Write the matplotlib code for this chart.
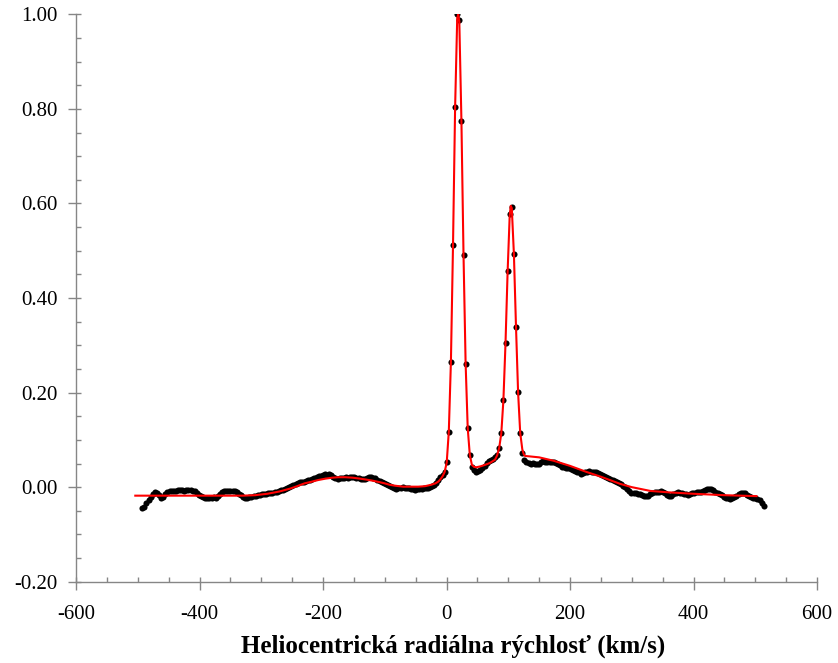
import numpy as np
import matplotlib
matplotlib.use("Agg")
import matplotlib.pyplot as plt
from matplotlib.ticker import MultipleLocator, FormatStrFormatter

plt.rcParams["axes.unicode_minus"] = False

# ---- observed spectrum: uniform velocity channels ----
VEL_FIRST = -492.7     # km/s, first channel
VEL_STEP = 3.4         # km/s, channel width

flux_left = [
    -0.044, -0.041, -0.034, -0.027, -0.020, -0.014, -0.011, -0.012, -0.017, -0.022,
    -0.021, -0.015, -0.010, -0.009, -0.008, -0.009, -0.008, -0.007, -0.007, -0.006,
    -0.008, -0.007, -0.006, -0.007, -0.008, -0.009, -0.012, -0.016, -0.019, -0.021,
    -0.022, -0.023, -0.022, -0.023, -0.021, -0.022, -0.019, -0.014, -0.010, -0.009,
    -0.008, -0.009, -0.008, -0.008, -0.009, -0.011, -0.014, -0.017, -0.020, -0.022,
    -0.023, -0.021, -0.020, -0.019, -0.018, -0.016, -0.016, -0.015, -0.014, -0.015,
    -0.013, -0.012, -0.012, -0.011, -0.010, -0.009, -0.007, -0.005, -0.003, -0.002,
    0.001, 0.003, 0.004, 0.006, 0.009, 0.011, 0.010, 0.011, 0.013, 0.015,
    0.016, 0.018, 0.020, 0.022, 0.023, 0.024, 0.025, 0.027, 0.026, 0.027,
    0.025, 0.022, 0.020, 0.018, 0.019, 0.020, 0.020, 0.021, 0.020, 0.021,
    0.022, 0.021, 0.020, 0.019, 0.018, 0.017, 0.018, 0.020, 0.021, 0.021,
    0.020, 0.019, 0.016, 0.013, 0.010, 0.008, 0.006, 0.004, 0.002, 0.000,
    -0.002, -0.003, -0.002, -0.001, 0.000, -0.001, -0.002, -0.002, -0.003, -0.004,
    -0.005, -0.004, -0.004, -0.003, -0.002, -0.001, -0.001, 0.000, 0.002, 0.004,
    0.008, 0.016, 0.021, 0.026, 0.033,
]
flux_peaks = [
    0.053, 0.117, 0.265, 0.512, 0.805, 1.000, 0.988, 0.775, 0.491, 0.260,
    0.126, 0.069, 0.043, 0.036, 0.032, 0.034, 0.037, 0.040, 0.045, 0.051,
    0.055, 0.057, 0.060, 0.064, 0.068, 0.082, 0.114, 0.184, 0.304, 0.457,
    0.577, 0.593, 0.493, 0.339, 0.201, 0.114, 0.073,
]
flux_right = [
    0.058, 0.054, 0.052, 0.050, 0.052, 0.049, 0.048, 0.050, 0.053, 0.055,
    0.054, 0.053, 0.053, 0.054, 0.053, 0.051, 0.049, 0.046, 0.043, 0.042,
    0.041, 0.040, 0.039, 0.037, 0.035, 0.033, 0.031, 0.028, 0.029, 0.031,
    0.033, 0.034, 0.033, 0.032, 0.031, 0.030, 0.028, 0.026, 0.024, 0.022,
    0.020, 0.018, 0.016, 0.013, 0.011, 0.008, 0.006, 0.003, 0.000, -0.004,
    -0.009, -0.012, -0.013, -0.012, -0.014, -0.015, -0.017, -0.019, -0.019, -0.018,
    -0.015, -0.012, -0.011, -0.010, -0.010, -0.009, -0.010, -0.013, -0.016, -0.019,
    -0.018, -0.015, -0.012, -0.011, -0.012, -0.013, -0.014, -0.015, -0.016, -0.015,
    -0.013, -0.012, -0.011, -0.011, -0.010, -0.009, -0.006, -0.004, -0.003, -0.004,
    -0.007, -0.010, -0.012, -0.014, -0.017, -0.020, -0.022, -0.024, -0.025, -0.024,
    -0.021, -0.018, -0.015, -0.013, -0.012, -0.013, -0.016, -0.019, -0.021, -0.023,
    -0.024, -0.025, -0.028, -0.034, -0.040,
]

# ---- model fit (red curve) ----
fit_vel = [
    -504, -450, -400, -350, -330, -310, -290, -270, -253, -240,
    -230, -220, -208, -196, -185, -175, -164, -152, -140, -130,
    -121, -110, -100, -92, -83, -70, -60, -46, -35, -25,
    -18, -13, -9, -6, -3.1, 0.3, 3.7, 7.1, 10.5, 13.9,
    17.3, 19.0, 20.7, 24.1, 27.5, 30.9, 34.3, 37.7, 41.1, 44.5,
    48, 55, 62, 70, 78.5, 81.9, 85.3, 88.7, 92.1, 95.5,
    98.9, 102.3, 104.0, 105.7, 109.1, 112.5, 115.9, 119.3, 122.7, 125.0,
    127, 135, 150, 173, 200, 227, 250, 281, 300, 330,
    360, 400, 450, 502,
]
fit_flux = [
    -0.018, -0.018, -0.018, -0.018, -0.018, -0.017, -0.014, -0.009, -0.003, 0.003,
    0.008, 0.011, 0.015, 0.018, 0.020, 0.021, 0.021, 0.020, 0.018, 0.016,
    0.014, 0.011, 0.008, 0.005, 0.003, 0.001, 0.001, 0.001, 0.002, 0.005,
    0.008, 0.012, 0.018, 0.024, 0.032, 0.052, 0.118, 0.265, 0.512, 0.803,
    0.992, 1.000, 0.985, 0.776, 0.492, 0.262, 0.125, 0.068, 0.047, 0.043,
    0.042, 0.044, 0.047, 0.051, 0.058, 0.067, 0.083, 0.114, 0.184, 0.304,
    0.455, 0.575, 0.595, 0.590, 0.493, 0.339, 0.200, 0.115, 0.080, 0.070,
    0.066, 0.065, 0.063, 0.056, 0.045, 0.032, 0.022, 0.007, 0.000, -0.008,
    -0.011, -0.014, -0.017, -0.019,
]

x_ticks = [-600, -400, -200, 0, 200, 400, 600]
y_ticks = [-0.20, 0.00, 0.20, 0.40, 0.60, 0.80, 1.00]
x_label = "Heliocentrická radiálna rýchlosť (km/s)"

flux = np.array(flux_left + flux_peaks + flux_right)
vel = VEL_FIRST + VEL_STEP * np.arange(len(flux))

SERIF = ["Liberation Serif", "DejaVu Serif"]
GRAY = "#868686"

fig = plt.figure(figsize=(8.38, 6.63), dpi=100)
ax = fig.add_axes([0.0907, 0.1226, 0.8843, 0.8558])

ax.plot(vel, flux, linestyle="none", marker="o", ms=4.4, color="black",
        markeredgewidth=0, zorder=2)
ax.plot(fit_vel, fit_flux, color="#ff0000", lw=1.5, zorder=3)

ax.set_xlim(x_ticks[0], x_ticks[-1])
ax.set_ylim(y_ticks[0], y_ticks[-1])
ax.set_xticks(x_ticks)
ax.set_yticks(y_ticks)
ax.yaxis.set_major_formatter(FormatStrFormatter("%.2f"))
ax.xaxis.set_minor_locator(MultipleLocator(50))
ax.yaxis.set_minor_locator(MultipleLocator(0.05))
ax.xaxis.remove_overlapping_locs = False
ax.yaxis.remove_overlapping_locs = False

for s in ["top", "right"]:
    ax.spines[s].set_visible(False)
for s in ["left", "bottom"]:
    ax.spines[s].set_color(GRAY)
    ax.spines[s].set_linewidth(1.0)

ax.tick_params(axis="both", which="major", direction="out", length=5.5,
               width=1.0, color=GRAY, labelsize=15, labelcolor="black")
ax.tick_params(axis="both", which="minor", direction="in", length=3.8,
               width=1.0, color=GRAY)
ax.tick_params(axis="x", which="major", pad=11)
ax.tick_params(axis="y", which="major", pad=8)
for lab in ax.get_xticklabels() + ax.get_yticklabels():
    lab.set_family(SERIF)

ax.set_xlabel(x_label, family=SERIF, fontsize=18, fontweight="bold")
ax.xaxis.set_label_coords(0.509, -0.094)

fig.savefig("out.png", dpi=100)
